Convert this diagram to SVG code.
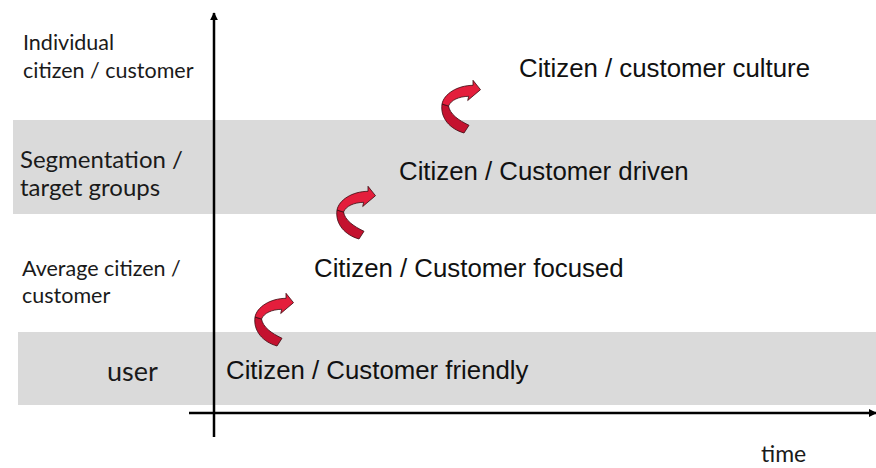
<svg xmlns="http://www.w3.org/2000/svg" width="876" height="468" viewBox="0 0 876 468">
  <style>
    .band { fill: #dadada; }
    .lab { font-family: Lato, "Liberation Sans", sans-serif; fill: #1a1a1a; }
    .stage { font-family: "Liberation Sans", Arial, sans-serif; font-size: 25.8px; fill: #111; }
    .axis { stroke: #000; stroke-width: 2.5; fill: none; }
    .hi { fill: #e41e3c; stroke: #3a0a10; stroke-width: 0.8; stroke-linejoin: round; }
    .lo { fill: #c4122f; stroke: #3a0a10; stroke-width: 0.8; stroke-linejoin: round; }
  </style>
  <defs>
    <marker id="ah" viewBox="0 0 10 10" refX="9" refY="5" markerWidth="3.2" markerHeight="3.2" orient="auto" markerUnits="strokeWidth">
      <path d="M0,0 L10,5 L0,10 Z" fill="#000"/>
    </marker>
    <g id="curl">
      <path class="lo" d="M255,317 C253,331 263,342 277,346 L282,338.3 C271,333 263,327 261.5,319 Z"/>
      <path class="hi" d="M286,298.3 L286,293.3 L293.5,302.7 L280.7,313.5 L281.7,309.3 C272,309.5 264,313 261.5,319 L255,317 C257,307 270,298.5 286,298.3 Z"/>
    </g>
  </defs>

  <rect width="876" height="468" fill="#fff"/>

  <g id="bands">
    <rect class="band" x="13" y="120" width="863" height="94"/>
    <rect class="band" x="18" y="332" width="858" height="73"/>
  </g>

  <g id="row-labels">
    <g id="label-individual">
      <text class="lab" x="23" y="50" font-size="21.5">Individual</text>
      <text class="lab" x="23" y="78" font-size="21.5">citizen / customer</text>
    </g>
    <g id="label-segmentation">
      <text class="lab" x="20" y="168" font-size="24">Segmentation /</text>
      <text class="lab" x="20" y="196" font-size="24">target groups</text>
    </g>
    <g id="label-average">
      <text class="lab" x="22" y="276" font-size="21.5">Average citizen /</text>
      <text class="lab" x="22" y="303" font-size="21.5">customer</text>
    </g>
    <g id="label-user">
      <text class="lab" x="107" y="381" font-size="27">user</text>
    </g>
  </g>

  <g id="connectors">
    <line class="axis" x1="214" y1="437" x2="214" y2="13" marker-end="url(#ah)"/>
    <line class="axis" x1="189" y1="413" x2="876" y2="413" marker-end="url(#ah)"/>
    <use href="#curl"/>
    <use href="#curl" transform="translate(82,-107)"/>
    <use href="#curl" transform="translate(187,-213)"/>
  </g>

  <g id="stage-friendly"><text class="stage" x="226" y="379">Citizen / Customer friendly</text></g>
  <g id="stage-focused"><text class="stage" x="314" y="277">Citizen / Customer focused</text></g>
  <g id="stage-driven"><text class="stage" x="399" y="180">Citizen / Customer driven</text></g>
  <g id="stage-culture"><text class="stage" x="519" y="77">Citizen / customer culture</text></g>

  <g id="axis-time"><text class="lab" x="761" y="462" font-size="23">time</text></g>
</svg>
